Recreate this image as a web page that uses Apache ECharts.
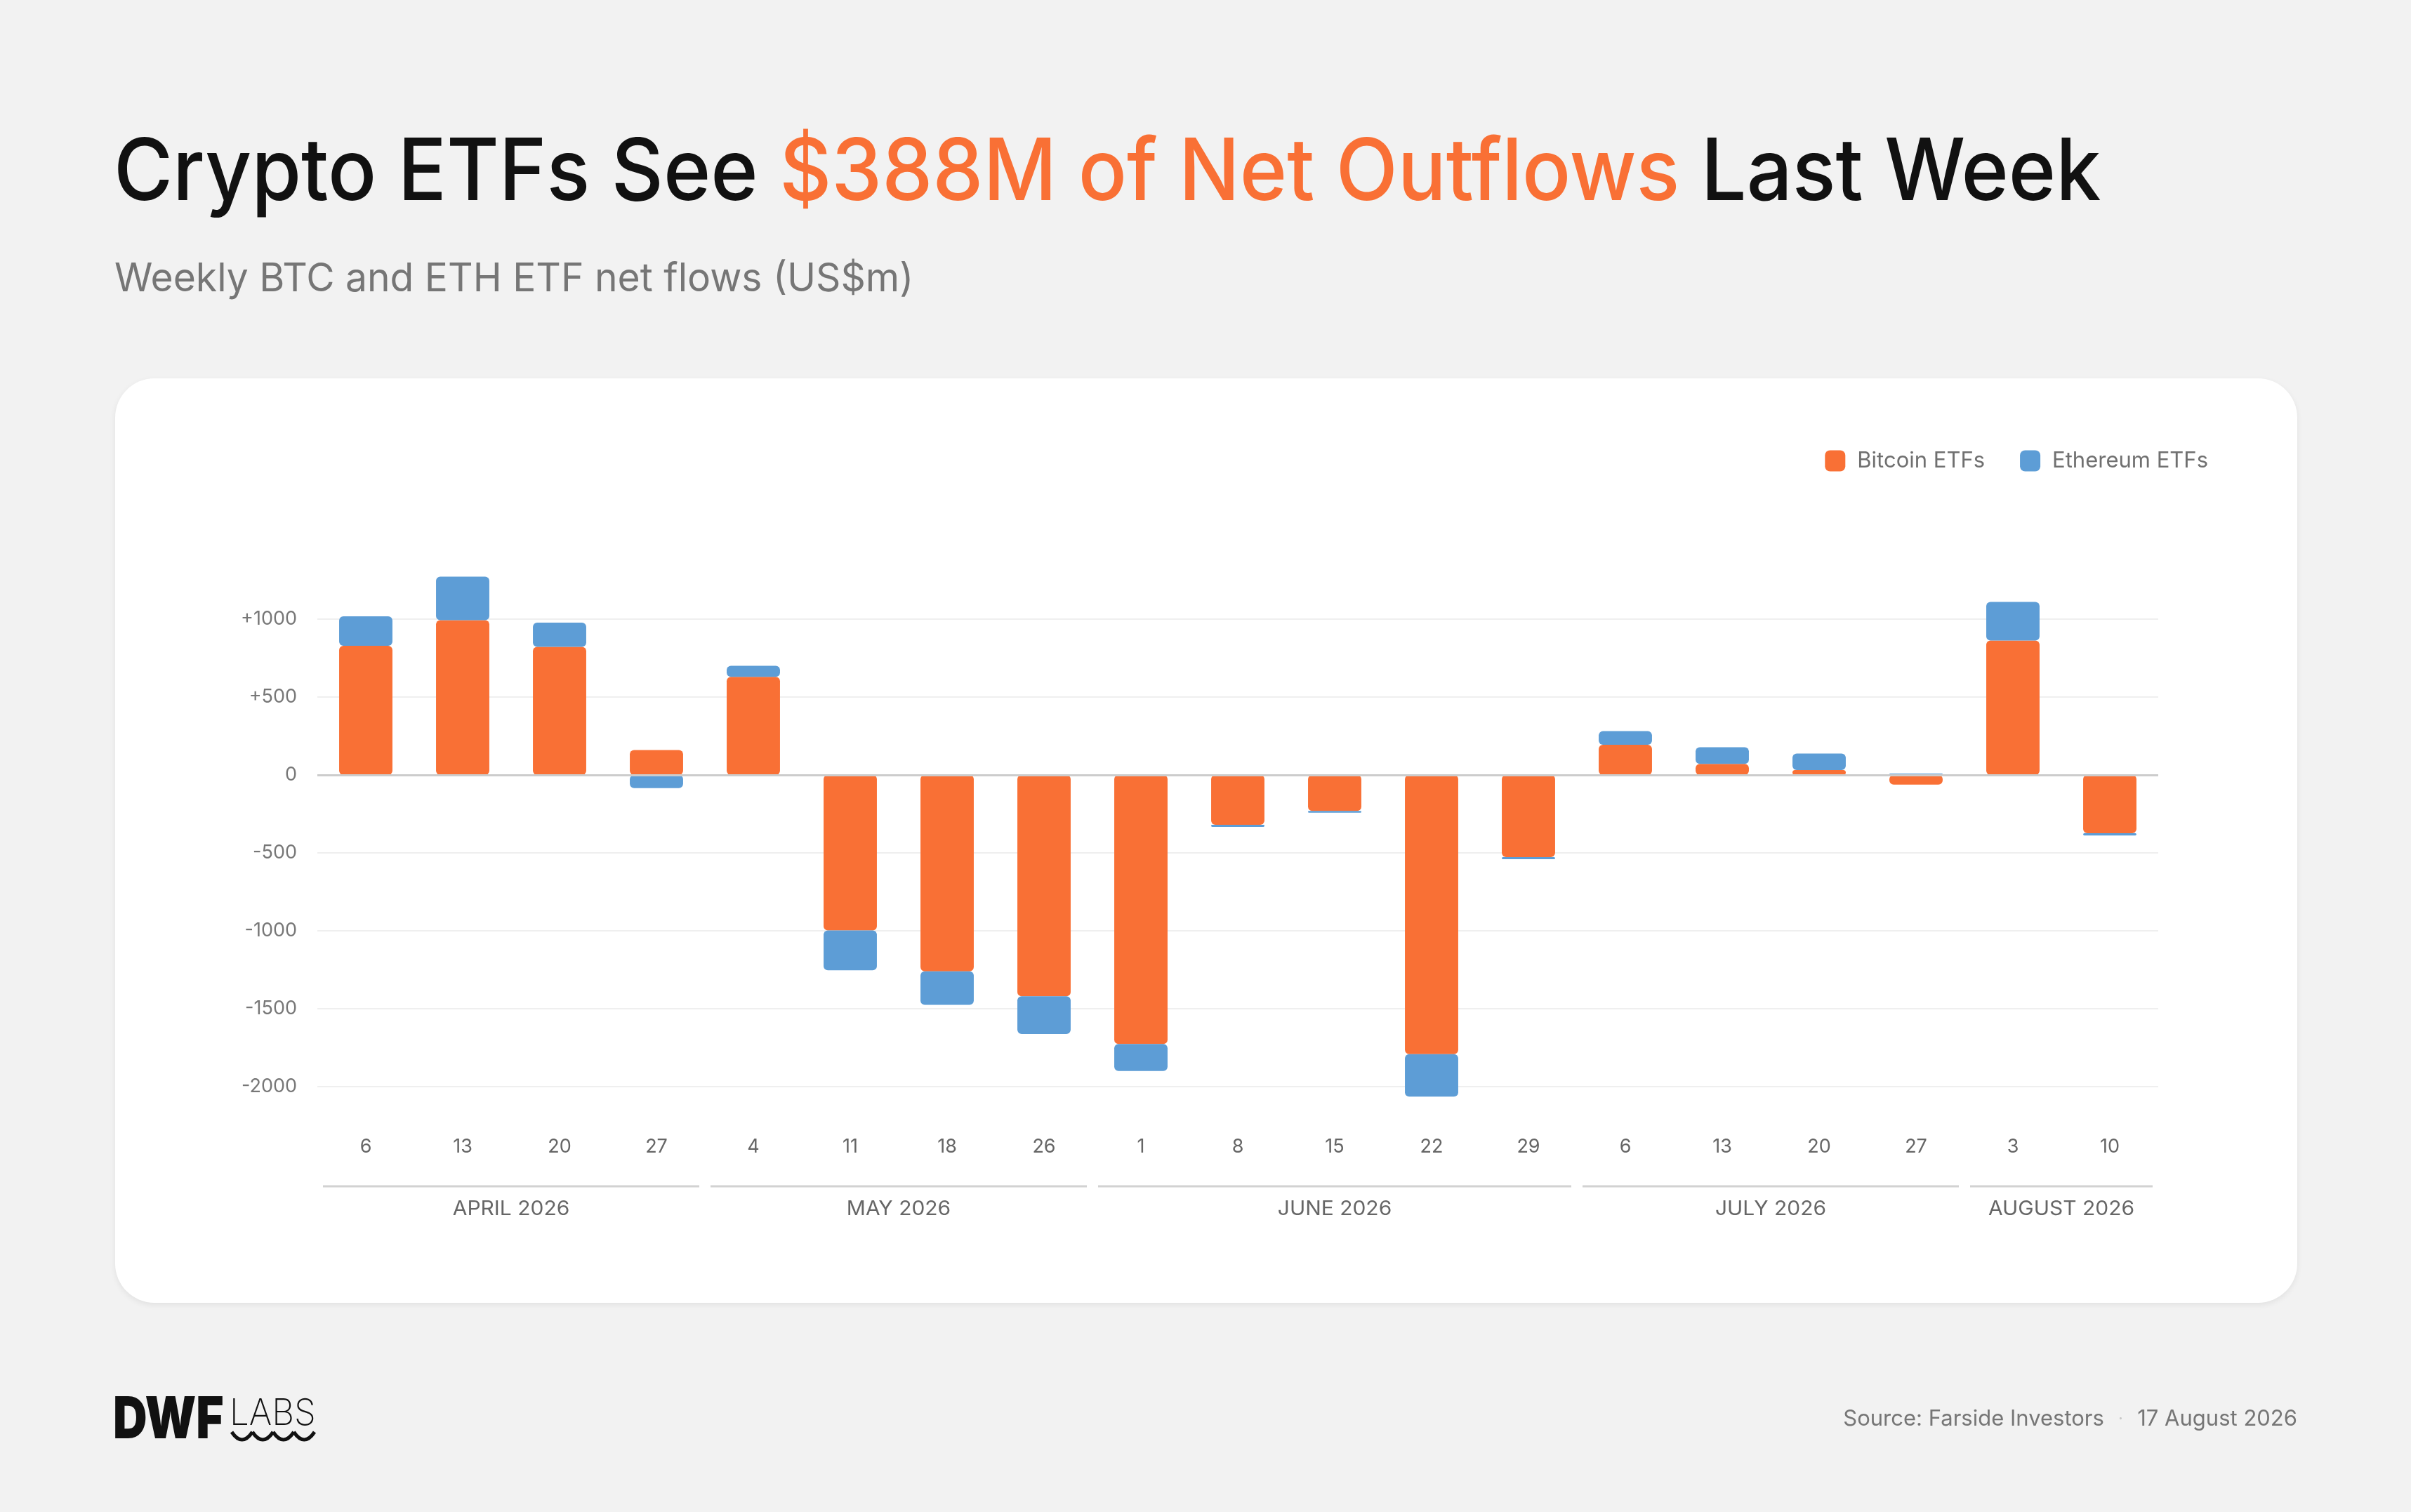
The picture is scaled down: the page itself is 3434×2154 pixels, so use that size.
<!DOCTYPE html>
<html>
<head>
<meta charset="utf-8">
<script src="https://cdn.jsdelivr.net/npm/echarts@6/dist/echarts.min.js"></script>
<style>
  html, body { margin: 0; padding: 0; background: #f2f2f2; }
  #chart { width: 3434px; height: 2154px; }
</style>
</head>
<body>
<div id="chart"></div>
<script>
// weekly net flows, US$m (week starting)
var weekDays = ['6', '13', '20', '27', '4', '11', '18', '26', '1', '8', '15', '22', '29', '6', '13', '20', '27', '3', '10'];
var btcFlows = [829, 993, 822, 160, 630, -998, -1260, -1420, -1726, -320, -231, -1792, -527, 194, 71, 32, -62, 863, -374];
var ethFlows = [189, 279, 155, -84, 71, -255, -215, -242, -174, -13, -11, -272, -14, 87, 107, 105, 9, 247, -14];
var monthNames = ['APRIL 2026', 'MAY 2026', 'JUNE 2026', 'JULY 2026', 'AUGUST 2026'];
var monthWeeks = [4, 4, 5, 4, 2];
var yTicks = [-2000, -1500, -1000, -500, 0, 500, 1000];

var ORANGE = '#F97035';
var BLUE = '#5D9DD6';
var FONT = 'Inter, "Noto Sans", sans-serif';

var chart = echarts.init(document.getElementById('chart'));

// logo wave under "LABS"
var wave = [];
for (var k = 0; k < 4; k++) {
    wave.push({
        id: 'wave' + k, type: 'bezierCurve',
        shape: { x1: 330 + k * 29.5, y1: 2040, x2: 359.5 + k * 29.5, y2: 2040, cpx1: 344.75 + k * 29.5, cpy1: 2062 },
        style: { fill: 'none', stroke: '#111', lineWidth: 5 }
    });
}

// static decorations: card, title, footer
var baseGraphic = [
    {
        id: 'card', type: 'rect', z: -100,
        shape: { x: 164, y: 539, width: 3108, height: 1317, r: 56 },
        style: { fill: '#fff', shadowBlur: 8, shadowColor: 'rgba(0,0,0,0.07)', shadowOffsetY: 3 }
    },
    {
        id: 'title', type: 'text', x: 162, y: 248, scaleX: 0.94, originX: 0,
        style: {
            text: '{a|Crypto ETFs See }{b|$388M of Net Outflows}{a| Last Week}',
            verticalAlign: 'middle',
            rich: {
                a: { fill: '#111', font: '500 122px ' + FONT },
                b: { fill: ORANGE, font: '500 122px ' + FONT }
            }
        }
    },
    {
        id: 'subtitle', type: 'text', x: 163, y: 398, scaleX: 0.985, originX: 0,
        style: { text: 'Weekly BTC and ETH ETF net flows (US$m)', fill: '#767676', font: '400 56px ' + FONT, verticalAlign: 'middle' }
    },
    {
        id: 'source', type: 'text', x: 3272, y: 2022,
        style: {
            text: '{s|Source: Farside Investors}{d|   ·   }{s|17 August 2026}',
            align: 'right', verticalAlign: 'middle',
            rich: {
                s: { fill: '#767676', font: '400 31px ' + FONT },
                d: { fill: '#c8c8c8', font: '400 24px ' + FONT }
            }
        }
    },
    {
        id: 'logoDwf', type: 'text', x: 161, y: 2024, scaleX: 0.82, originX: 0,
        style: { text: 'DWF', fill: '#111', font: '900 82px ' + FONT, verticalAlign: 'middle' }
    },
    {
        id: 'logoLabs', type: 'text', x: 327, y: 2014, scaleX: 0.95, originX: 0,
        style: { text: 'LABS', fill: '#111', font: '200 52px ' + FONT, verticalAlign: 'middle' }
    }
].concat(wave);

var option = {
    backgroundColor: '#f2f2f2',
    textStyle: { fontFamily: FONT },
    animation: false,
    legend: {
        right: 284, top: 636,
        itemWidth: 29, itemHeight: 30, itemGap: 50,
        icon: 'roundRect',
        textStyle: { fontSize: 31, color: '#707070', padding: [0, 0, 0, 12] },
        data: ['Bitcoin ETFs', 'Ethereum ETFs']
    },
    grid: { left: 452, right: 360, top: 882, bottom: 606, containLabel: false },
    xAxis: {
        type: 'category',
        data: weekDays,
        axisLine: { show: false },
        axisTick: { show: false },
        axisLabel: { margin: 72, fontSize: 27, color: '#666' }
    },
    yAxis: {
        type: 'value',
        min: yTicks[0], max: yTicks[yTicks.length - 1], interval: 500,
        axisLine: { show: false },
        axisTick: { show: false },
        axisLabel: {
            margin: 29, fontSize: 27, color: '#777',
            formatter: function (v) { return v > 0 ? '+' + v : String(v); }
        },
        splitLine: { lineStyle: { color: '#efefef', width: 2 } }
    },
    series: [
        {
            name: 'Bitcoin ETFs', type: 'bar', stack: 'flows', data: btcFlows,
            barWidth: '55%', clip: false,
            itemStyle: { color: ORANGE, borderRadius: 6 },
            markLine: {
                silent: true, symbol: 'none', label: { show: false },
                lineStyle: { color: '#cccccc', width: 3, type: 'solid' },
                data: [{ yAxis: 0 }]
            }
        },
        {
            name: 'Ethereum ETFs', type: 'bar', stack: 'flows', data: ethFlows,
            barWidth: '55%', clip: false,
            itemStyle: { color: BLUE, borderRadius: 6 }
        }
    ],
    graphic: baseGraphic
};

chart.setOption(option);

// month brackets under the day labels, positioned from the category scale
var monthGraphic = [];
var half = (chart.convertToPixel({ xAxisIndex: 0 }, 1) - chart.convertToPixel({ xAxisIndex: 0 }, 0)) / 2;
var start = 0;
monthNames.forEach(function (name, i) {
    var end = start + monthWeeks[i] - 1;
    var x0 = chart.convertToPixel({ xAxisIndex: 0 }, start) - half + 8;
    var x1 = chart.convertToPixel({ xAxisIndex: 0 }, end) + half - 8;
    var cx = (x0 + x1) / 2;
    monthGraphic.push({
        id: 'mline' + i, type: 'line',
        shape: { x1: x0, y1: 1690, x2: x1, y2: 1690 },
        style: { stroke: '#d2d2d2', lineWidth: 3 }
    });
    monthGraphic.push({
        id: 'mtext' + i, type: 'text', x: cx, y: 1723, scaleX: 1.07, originX: 0,
        style: { text: name, fill: '#666', font: '400 28px ' + FONT, align: 'center', verticalAlign: 'middle' }
    });
    start = end + 1;
});

chart.setOption({ graphic: baseGraphic.concat(monthGraphic) });
</script>
</body>
</html>
